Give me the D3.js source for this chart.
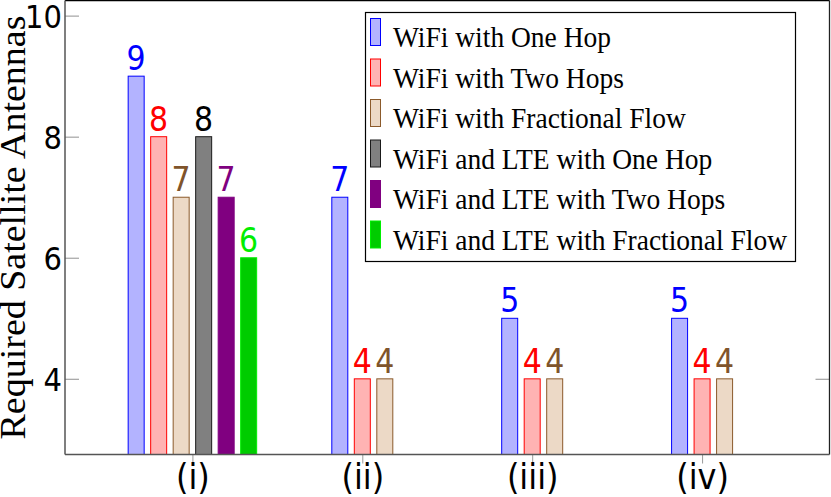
<!DOCTYPE html>
<html>
<head>
<meta charset="utf-8">
<script src="https://cdn.jsdelivr.net/npm/d3@7"></script>
<style>
  body { margin: 0; background: #fff; }
  svg { display: block; }
</style>
</head>
<body>
<svg id="chart" width="831" height="497"></svg>
<script>
const categories = ["(i)", "(ii)", "(iii)", "(iv)"];
const seriesNames = [
    "WiFi with One Hop",
    "WiFi with Two Hops",
    "WiFi with Fractional Flow",
    "WiFi and LTE with One Hop",
    "WiFi and LTE with Two Hops",
    "WiFi and LTE with Fractional Flow"
];
const wifiOneHop = [9, 7, 5, 5];
const wifiTwoHops = [8, 4, 4, 4];
const wifiFractional = [7, 4, 4, 4];
const lteOneHop = [8, null, null, null];
const lteTwoHops = [7, null, null, null];
const lteFractional = [6, null, null, null];
const yTicks = [4, 6, 8, 10];

const seriesValues = [wifiOneHop, wifiTwoHops, wifiFractional, lteOneHop, lteTwoHops, lteFractional];
const fills = ["#b3b3ff", "#ffb3b3", "#ecd9c6", "#808080", "#800080", "#00cc00"];
const strokes = ["#0000ff", "#ff0000", "#8b5a2b", "#1a1a1a", "#800080", "#00ee00"];
const labelColors = ["#0000ff", "#ff0000", "#80542b", "#000000", "#800080", "#00ee00"];

const svg = d3.select("#chart"),
    plotLeft = 65, plotRight = 829.5, plotTop = 0.5, plotBottom = 454.5,
    stretch = 1.1; // text in the reference is a bit taller than wide

const x = d3.scalePoint()
    .domain(categories)
    .range([plotLeft, plotRight])
    .padding(0.75);

const y = d3.scaleLinear()
    .domain([2.75, 10.25])
    .range([plotBottom, plotTop]);

const pitch = 22.5, barW = 16;

// flatten into bars, centred per group by how many series have a value
const bars = [];
categories.forEach((c, ci) => {
    const present = seriesValues.map((vals, si) => ({ si, v: vals[ci] })).filter(d => d.v != null);
    present.forEach((d, k) => {
        bars.push({ cat: c, si: d.si, value: d.v, off: (k - (present.length - 1) / 2) * pitch });
    });
});

const plot = svg.append("g");

plot.selectAll("rect.bar")
    .data(bars)
    .join("rect")
    .attr("class", "bar")
    .attr("x", d => x(d.cat) + d.off - barW / 2)
    .attr("y", d => y(d.value))
    .attr("width", barW)
    .attr("height", d => plotBottom - y(d.value))
    .attr("fill", d => fills[d.si])
    .attr("stroke", d => strokes[d.si])
    .attr("stroke-width", 1);

plot.selectAll("text.val")
    .data(bars)
    .join("text")
    .attr("class", "val")
    .attr("transform", d => `translate(${x(d.cat) + d.off},${y(d.value) - 6}) scale(1,${stretch})`)
    .attr("text-anchor", "middle")
    .style("font-family", "DejaVu Sans")
    .style("font-size", "30px")
    .style("fill", d => labelColors[d.si])
    .text(d => d.value);

// axes
const yAxis = svg.append("g")
    .attr("transform", `translate(${plotLeft},0)`)
    .call(d3.axisLeft(y).tickValues(yTicks).tickSize(-14).tickPadding(3).tickFormat(d3.format("d")));
yAxis.select(".domain").remove();
yAxis.selectAll(".tick line").attr("stroke", "#aaaaaa").attr("stroke-width", 1.3);
yAxis.selectAll(".tick text")
    .style("font-family", "DejaVu Sans")
    .style("font-size", "29px")
    .attr("fill", "#000")
    .attr("dy", "0.36em")
    .attr("transform", `scale(1,${stretch})`);

const yRight = svg.append("g")
    .attr("transform", `translate(${plotRight},0)`)
    .call(d3.axisRight(y).tickValues([4]).tickSize(-14).tickFormat(""));
yRight.select(".domain").remove();
yRight.selectAll(".tick line").attr("stroke", "#aaaaaa").attr("stroke-width", 1.3);

const xAxis = svg.append("g")
    .attr("transform", `translate(0,${plotBottom})`)
    .call(d3.axisBottom(x).tickSize(9).tickPadding(0));
xAxis.select(".domain").remove();
xAxis.selectAll(".tick line").attr("stroke", "#999999");
xAxis.selectAll(".tick text")
    .style("font-family", "DejaVu Sans")
    .style("font-size", "32px")
    .attr("fill", "#000")
    .attr("y", 0)
    .attr("dy", null)
    .attr("transform", `translate(0,34) scale(1,${stretch})`);

// frame
svg.append("line").attr("x1", plotLeft).attr("x2", plotRight).attr("y1", plotTop).attr("y2", plotTop)
    .attr("stroke", "#000").attr("stroke-width", 1.3);
svg.append("line").attr("x1", plotRight).attr("x2", plotRight).attr("y1", plotTop).attr("y2", plotBottom)
    .attr("stroke", "#222").attr("stroke-width", 1.3);
svg.append("line").attr("x1", plotLeft).attr("x2", plotLeft).attr("y1", plotTop).attr("y2", plotBottom)
    .attr("stroke", "#555").attr("stroke-width", 1.5);
svg.append("line").attr("x1", plotLeft).attr("x2", plotRight).attr("y1", plotBottom).attr("y2", plotBottom)
    .attr("stroke", "#555").attr("stroke-width", 1.5);

// y label
svg.append("text")
    .attr("transform", `translate(25,${(plotTop + plotBottom) / 2}) rotate(-90) scale(1.07,1)`)
    .attr("text-anchor", "middle")
    .style("font-family", "Liberation Serif")
    .style("font-size", "35.5px")
    .text("Required Satellite Antennas");

// legend
const legend = svg.append("g").attr("transform", "translate(365.5,12.5)");
legend.append("rect")
    .attr("width", 430).attr("height", 249)
    .attr("fill", "#fff").attr("stroke", "#000").attr("stroke-width", 1.2);
seriesNames.forEach((name, i) => {
    const g = legend.append("g").attr("transform", `translate(0,${34.5 + i * 40.5})`);
    g.append("rect")
        .attr("x", 5).attr("y", -28.5)
        .attr("width", 10).attr("height", 27)
        .attr("fill", fills[i]).attr("stroke", strokes[i]).attr("stroke-width", 1);
    g.append("text")
        .attr("transform", `translate(27.5,0) scale(1,${stretch})`)
        .style("font-family", "Liberation Serif")
        .style("font-size", "27.5px")
        .text(name);
});
</script>
</body>
</html>
